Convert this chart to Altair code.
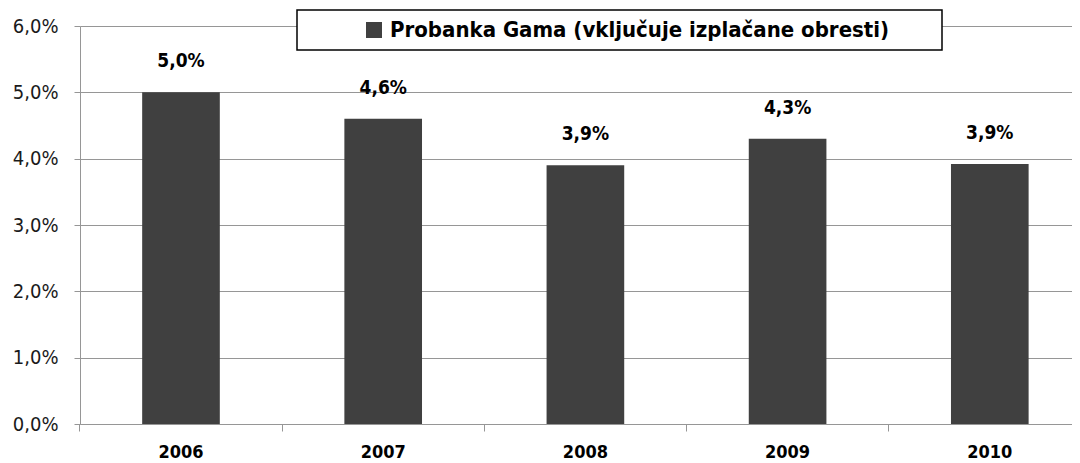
import altair as alt
import pandas as pd

years = ["2006", "2007", "2008", "2009", "2010"]
values = [5.0, 4.6, 3.9, 4.3, 3.92]
series_name = "Probanka Gama (vključuje izplačane obresti)"
y_ticks = [0, 0.01, 0.02, 0.03, 0.04, 0.05, 0.06]

df = pd.DataFrame({
    "year": years,
    "value": [v / 100 for v in values],
    "series": [series_name] * len(years),
})

FONT = "DejaVu Sans Condensed"
GRID = "#969696"
BAR = "#404040"
W, H = 992, 398
PCT = "replace(format(datum.value, '.1%'), '.', ',')"

x_enc = alt.X(
    "year:N", sort=years, title=None,
    scale=alt.Scale(paddingInner=0.616, paddingOuter=0.261, align=0.589, round=False),
    axis=alt.Axis(labels=False, ticks=True, tickSize=7, tickColor=GRID, tickWidth=1,
                  domainColor=GRID, domainWidth=1, grid=False, bandPosition=-0.8015),
)
y_enc = alt.Y(
    "value:Q", title=None,
    scale=alt.Scale(domain=[0, 0.06], nice=False, zero=True),
    axis=alt.Axis(values=y_ticks, labelExpr=PCT, grid=True, gridColor=GRID, gridWidth=1,
                  tickSize=6, tickColor=GRID, domainColor=GRID, labelPadding=16,
                  labelFont=FONT, labelFontSize=20, labelColor="#1a1a1a",
                  labelFontWeight="normal"),
)

bars = alt.Chart(df).mark_bar().encode(
    x=x_enc,
    y=y_enc,
    color=alt.Color(
        "series:N",
        scale=alt.Scale(range=[BAR]),
        legend=alt.Legend(
            title="\u00a0", titleOrient="right", titlePadding=44, titleFontSize=10,
            orient="none", legendX=217, legendY=-16,
            padding=9, strokeColor="black", fillColor="white",
            symbolType="square", symbolSize=256, symbolStrokeWidth=0,
            symbolOffset=57, labelOffset=5,
            labelFont=FONT, labelFontSize=22, labelFontWeight="bold",
            labelColor="black", labelLimit=0,
        ),
    ),
)

labels = alt.Chart(df).transform_calculate(lbl=PCT).mark_text(
    dy=-31, font=FONT, fontSize=19, fontWeight="bold", color="black", baseline="middle"
).encode(
    x=alt.X("year:N", sort=years),
    y=alt.Y("value:Q"),
    text="lbl:N",
)

year_labels = alt.Chart(df).mark_text(
    font=FONT, fontSize=18, fontWeight="bold", color="black", baseline="middle"
).encode(
    x=alt.X("year:N", sort=years),
    y=alt.value(H + 29),
    text="year:N",
)

chart = alt.layer(bars, labels, year_labels).properties(
    width=W, height=H,
    autosize=alt.AutoSizeParams(type="none"),
    padding={"left": 72, "top": 18, "right": 0, "bottom": 37},
).configure_view(stroke=None).configure_legend(strokeWidth=1.5)

chart.save("out.html", embed_options={"renderer": "svg", "actions": False})
